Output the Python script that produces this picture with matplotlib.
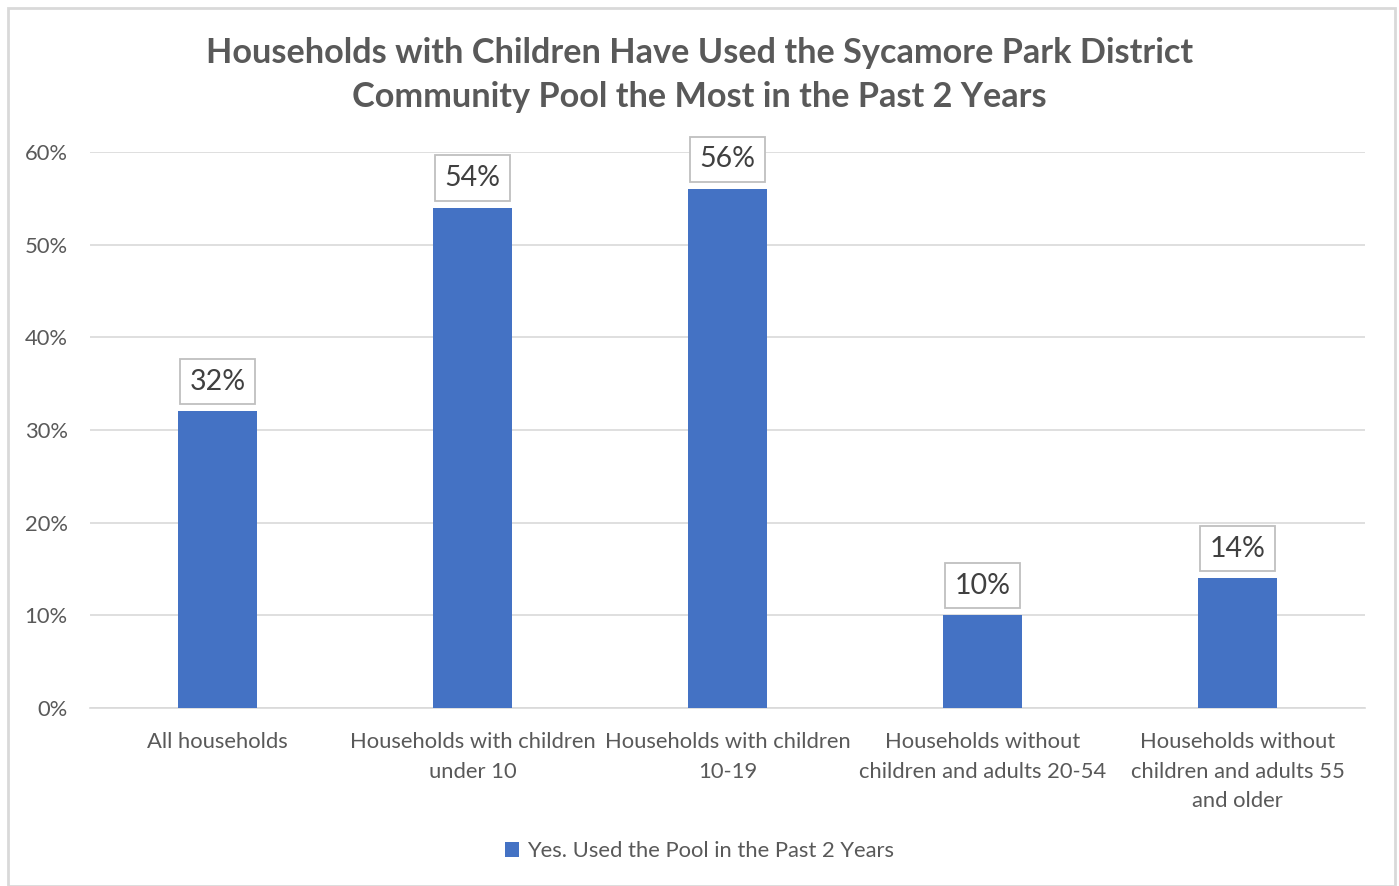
import matplotlib
matplotlib.use("Agg")
import matplotlib.pyplot as plt
from matplotlib.patches import Rectangle

categories = [
    "All households",
    "Households with children\nunder 10",
    "Households with children\n10-19",
    "Households without\nchildren and adults 20-54",
    "Households without\nchildren and adults 55\nand older",
]
values = [32, 54, 56, 10, 14]
series_name = "Yes. Used the Pool in the Past 2 Years"
title = "Households with Children Have Used the Sycamore Park District\nCommunity Pool the Most in the Past 2 Years"
yticks = [0, 10, 20, 30, 40, 50, 60]

plt.rcParams['font.family'] = ['Lato', 'DejaVu Sans']
text_color = "#595959"
bar_color = "#4472C4"
grid_color = "#D9D9D9"

fig = plt.figure(figsize=(13.99, 8.86), dpi=100)
fig.patch.set_facecolor("white")
# light outer frame of the chart area
fig.add_artist(Rectangle((8 / 1399, 0.0), 1387 / 1399, 1 - 8 / 886, transform=fig.transFigure,
                         fill=False, edgecolor="#D9D9D9", linewidth=2))

ax = fig.add_axes([90 / 1399, 1 - 708 / 886, 1275 / 1399, (708 - 152) / 886])
x = list(range(len(categories)))
bars = ax.bar(x, values, width=0.31, color=bar_color, zorder=3, label=series_name)

ax.set_xlim(-0.5, len(categories) - 0.5)
ax.set_ylim(0, 60)
ax.set_yticks(yticks)
ax.set_yticklabels([f"{v}%" for v in yticks], color=text_color, fontsize=15.8)
ax.set_xticks(x)
ax.set_xticklabels(categories, color=text_color, fontsize=15.8, linespacing=1.62)
ax.tick_params(axis="both", length=0)
ax.tick_params(axis="x", pad=17)
ax.tick_params(axis="y", pad=16)
ax.grid(axis="y", color=grid_color, linewidth=1.2, zorder=0)
for side in ["top", "right", "left"]:
    ax.spines[side].set_visible(False)
ax.spines["bottom"].set_color(grid_color)
ax.spines["bottom"].set_linewidth(1.2)

for xi, v in zip(x, values):
    ax.annotate(f"{v}%", xy=(xi, v), xytext=(0, 12), textcoords="offset points",
                ha="center", va="bottom", fontsize=20.5, color="#404040",
                bbox=dict(boxstyle="square,pad=0.34", facecolor="white", edgecolor="#BFBFBF", linewidth=1.3),
                zorder=4)

fig.text(0.5, 1 - 75 / 886, title, ha="center", va="center", fontsize=24.7, fontweight="bold",
         color=text_color, linespacing=1.45)

leg = fig.legend(handles=[bars], labels=[series_name], loc="center", bbox_to_anchor=(0.5, 1 - 851 / 886),
                 frameon=False, fontsize=15.8, handlelength=0.65, handleheight=0.65, handletextpad=0.35)
for t in leg.get_texts():
    t.set_color(text_color)

fig.savefig("out.png", dpi=100, facecolor="white")
